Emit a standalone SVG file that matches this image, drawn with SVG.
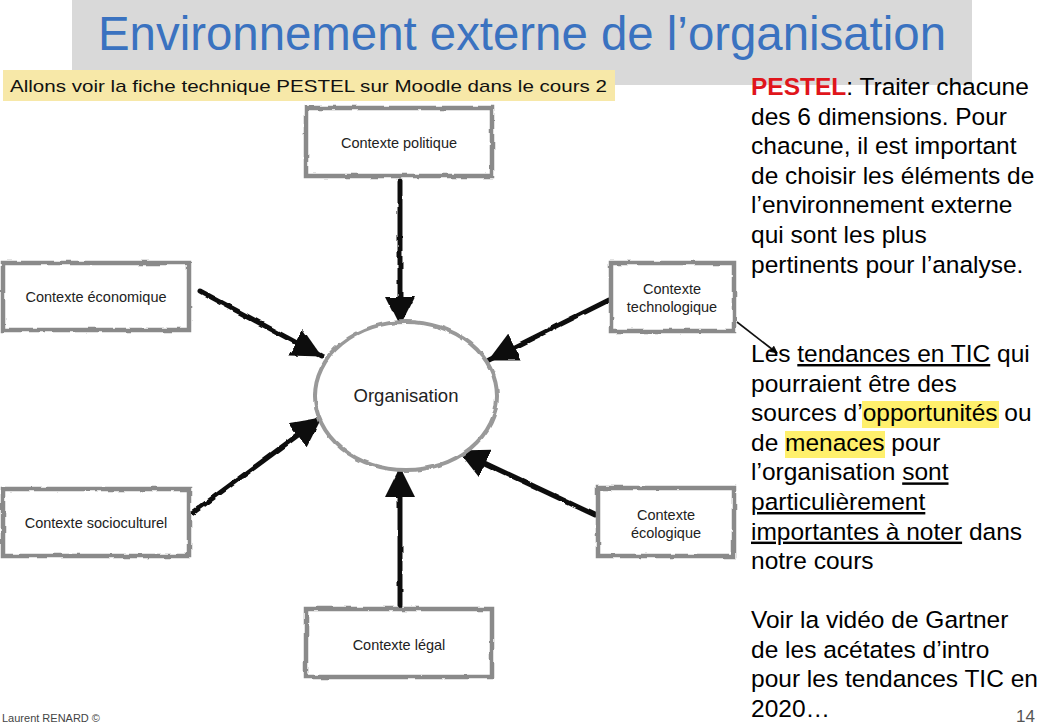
<svg xmlns="http://www.w3.org/2000/svg" width="1048" height="727" viewBox="0 0 1048 727">
<style>
  .box { fill: #ffffff; stroke: #8a8a8a; stroke-width: 4.5; }
  .lbl { font-family: "Liberation Sans", Arial, sans-serif; font-size: 14.5px; fill: #222; text-anchor: middle; }
  .arrow { stroke: #111; stroke-width: 5; fill: none; stroke-linecap: round; }
  .body { font-family: "Liberation Sans", Arial, sans-serif; font-size: 24.5px; fill: #000; }
  .ul { text-decoration: underline; }
</style>
<defs>
  <filter id="rough" x="-10%" y="-10%" width="120%" height="120%">
    <feTurbulence type="fractalNoise" baseFrequency="0.08" numOctaves="2" seed="3" result="n"/>
    <feDisplacementMap in="SourceGraphic" in2="n" scale="3" xChannelSelector="R" yChannelSelector="G"/>
  </filter>
  <marker id="head" markerUnits="userSpaceOnUse" markerWidth="30" markerHeight="30" refX="29" refY="15" orient="auto">
    <path d="M0,0 L30,15 L0,30 Z" fill="#111"/>
  </marker>
  <marker id="small" markerUnits="userSpaceOnUse" markerWidth="8" markerHeight="8" refX="7" refY="4" orient="auto">
    <path d="M0,0 L8,4 L0,8 Z" fill="#111"/>
  </marker>
</defs>
<rect width="1048" height="727" fill="#ffffff"/>
<g id="title">
  <rect x="72" y="0" width="900" height="85" fill="#d9d9d9"/>
  <text x="98" y="50" font-family="Liberation Sans, Arial, sans-serif" font-size="48" fill="#3a72c0" textLength="848" lengthAdjust="spacingAndGlyphs">Environnement externe de l’organisation</text>
</g>
<g id="note-moodle">
  <rect x="3" y="70" width="612" height="31" fill="#f7e8a8"/>
  <text x="10" y="92" font-family="Liberation Sans, Arial, sans-serif" font-size="17" fill="#111" textLength="597" lengthAdjust="spacingAndGlyphs">Allons voir la fiche technique PESTEL sur Moodle dans le cours 2</text>
</g>
<g id="connectors" filter="url(#rough)">
  <line class="arrow" x1="400" y1="181" x2="400" y2="326" marker-end="url(#head)"/>
  <line class="arrow" x1="200" y1="291" x2="321" y2="356" marker-end="url(#head)"/>
  <line class="arrow" x1="609" y1="300" x2="489" y2="360" marker-end="url(#head)"/>
  <line class="arrow" x1="194" y1="512" x2="321" y2="418" marker-end="url(#head)"/>
  <line class="arrow" x1="595" y1="515" x2="459" y2="451" marker-end="url(#head)"/>
  <line class="arrow" x1="400" y1="605" x2="400" y2="468" marker-end="url(#head)"/>
</g>
<g id="pointer">
  <line x1="737" y1="322" x2="777" y2="353" stroke="#111" stroke-width="1.6" marker-end="url(#small)"/>
</g>
<g id="organisation">
  <ellipse cx="406" cy="396" rx="91" ry="74" fill="#ffffff" stroke="#999" stroke-width="4" filter="url(#rough)"/>
  <text x="406" y="402" font-family="Liberation Sans, Arial, sans-serif" font-size="18.5" fill="#222" text-anchor="middle">Organisation</text>
</g>
<g id="politique">
  <rect class="box" x="306" y="108" width="186" height="68" filter="url(#rough)"/>
  <text class="lbl" x="399" y="148">Contexte politique</text>
</g>
<g id="economique">
  <rect class="box" x="3" y="263" width="186" height="67" filter="url(#rough)"/>
  <text class="lbl" x="96" y="302">Contexte économique</text>
</g>
<g id="technologique">
  <rect class="box" x="611" y="263" width="123" height="68" filter="url(#rough)"/>
  <text class="lbl" x="672" y="294">Contexte</text>
  <text class="lbl" x="672" y="312">technologique</text>
</g>
<g id="socioculturel">
  <rect class="box" x="3" y="489" width="186" height="67" filter="url(#rough)"/>
  <text class="lbl" x="96" y="528">Contexte socioculturel</text>
</g>
<g id="ecologique">
  <rect class="box" x="598" y="488" width="136" height="68" filter="url(#rough)"/>
  <text class="lbl" x="666" y="520">Contexte</text>
  <text class="lbl" x="666" y="538">écologique</text>
</g>
<g id="legal">
  <rect class="box" x="306" y="609" width="186" height="68" filter="url(#rough)"/>
  <text class="lbl" x="399" y="650">Contexte légal</text>
</g>
<g id="right-text">
  <rect x="862" y="401" width="137" height="27" fill="#fff06c"/>
  <rect x="785" y="431" width="100" height="27" fill="#fff06c"/>
  <text class="body">
    <tspan x="751" y="95"><tspan font-weight="bold" fill="#e0151b">PESTEL</tspan>: Traiter chacune</tspan>
    <tspan x="751" y="124.6">des 6 dimensions. Pour</tspan>
    <tspan x="751" y="154.2">chacune, il est important</tspan>
    <tspan x="751" y="183.8">de choisir les éléments de</tspan>
    <tspan x="751" y="213.4">l’environnement externe</tspan>
    <tspan x="751" y="243">qui sont les plus</tspan>
    <tspan x="751" y="272.6">pertinents pour l’analyse.</tspan>
    <tspan x="751" y="362">Les <tspan class="ul">tendances en TIC</tspan> qui</tspan>
    <tspan x="751" y="391.6">pourraient être des</tspan>
    <tspan x="751" y="421.2">sources d’opportunités ou</tspan>
    <tspan x="751" y="450.8">de menaces pour</tspan>
    <tspan x="751" y="480.4">l’organisation <tspan class="ul">sont</tspan></tspan>
    <tspan x="751" y="510" class="ul">particulièrement</tspan>
    <tspan x="751" y="539.6"><tspan class="ul">importantes à noter</tspan> dans</tspan>
    <tspan x="751" y="569.2">notre cours</tspan>
    <tspan x="751" y="628">Voir la vidéo de Gartner</tspan>
    <tspan x="751" y="657.6">de les acétates d’intro</tspan>
    <tspan x="751" y="687.2">pour les tendances TIC en</tspan>
    <tspan x="751" y="716.8">2020…</tspan>
  </text>
</g>
<g id="footer">
  <text x="2" y="722" font-family="Liberation Sans, Arial, sans-serif" font-size="11" fill="#444">Laurent RENARD ©</text>
  <text x="1016" y="722" font-family="Liberation Sans, Arial, sans-serif" font-size="17" fill="#555">14</text>
</g>
</svg>
